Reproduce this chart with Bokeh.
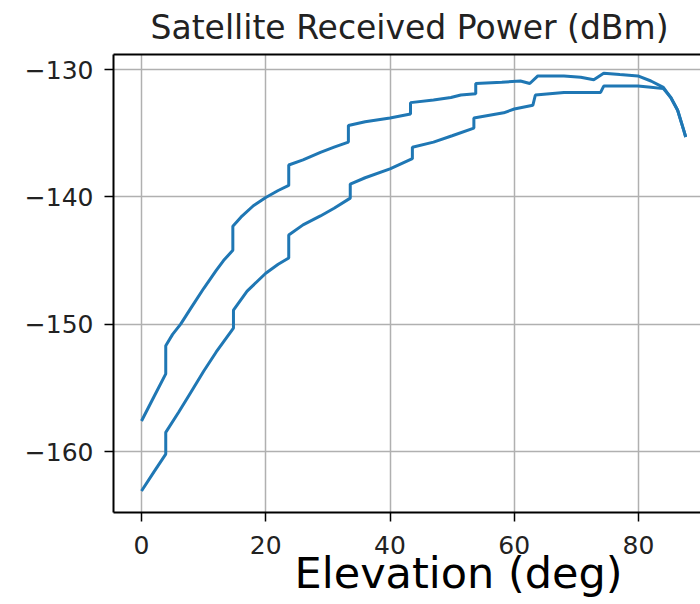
from bokeh.plotting import figure
from bokeh.models import Range1d, LinearAxis, FixedTicker
from bokeh.embed import file_html
from bokeh.resources import INLINE

title_text = "Satellite Received Power (dBm)"
xlabel_text = "Elevation (deg)"
x_ticks = [0, 20, 40, 60, 80]
y_ticks = [-160, -150, -140, -130]

upper_elev = [0, 2, 3.9, 3.9, 5, 6.3, 8, 10, 12, 13.2, 14.7, 14.7, 16, 18, 20, 22, 23.7, 23.7, 26, 28.8,
              31, 33.3, 33.3, 36, 40, 43.3, 43.3, 47, 49.8, 51.4, 53.8, 53.8, 58, 61, 62.5, 63.8, 68, 70.7,
              72.8, 74.4, 77, 79.9, 82, 84, 85.2, 86.3, 87.3, 87.6]
upper_power = [-157.6, -155.7, -153.9, -151.7, -150.8, -150.0, -148.7, -147.2, -145.8, -145.0,
               -144.2, -142.3, -141.6, -140.7, -140.05, -139.5, -139.1, -137.5, -137.1, -136.5,
               -136.1, -135.7, -134.4, -134.1, -133.8, -133.5, -132.6, -132.4, -132.2, -132.0,
               -131.9, -131.1, -131.0, -130.9, -131.1, -130.5, -130.5, -130.6, -130.8, -130.3,
               -130.4, -130.5, -130.9, -131.4, -132.2, -133.2, -134.8, -135.3]

lower_elev = [0, 2, 3.9, 3.9, 6, 8, 10, 12, 14.8, 14.8, 17, 20, 22, 23.7, 23.7, 26, 28.8, 31, 33.6, 33.6,
              36, 40, 43.6, 43.6, 47, 50, 53.5, 53.5, 58.3, 60, 63, 63.4, 68, 73.9, 74.4, 79.9, 82, 84,
              85.2, 86.3, 87.3, 87.6]
lower_power = [-163.1, -161.6, -160.2, -158.5, -156.9, -155.3, -153.7, -152.2, -150.3, -148.9,
               -147.4, -146.0, -145.3, -144.8, -143.0, -142.2, -141.5, -140.9, -140.1, -139.0,
               -138.5, -137.8, -137.0, -136.1, -135.7, -135.2, -134.6, -133.8, -133.4, -133.1,
               -132.8, -132.0, -131.8, -131.8, -131.3, -131.3, -131.4, -131.5, -132.2, -133.2,
               -134.8, -135.3]

p = figure(width=700, height=604, output_backend="svg", toolbar_location=None,
           x_range=Range1d(-4.51, 89.98), y_range=Range1d(-164.79, -128.82),
           min_border_left=113, min_border_top=54, min_border_bottom=92, min_border_right=0,
           title=title_text)
p.outline_line_color = None
p.background_fill_color = "white"
p.border_fill_color = "white"

p.title.align = "left"
p.title.vertical_align = "top"
p.title.offset = 37
p.title.standoff = 12
p.title.text_font = "DejaVu Sans"
p.title.text_font_size = "33px"
p.title.text_font_style = "normal"
p.title.text_color = "#222222"

blue = "#1f77b4"
p.line(upper_elev, upper_power, line_color=blue, line_width=3)
p.line(lower_elev, lower_power, line_color=blue, line_width=3)

for ax in (p.xaxis[0], p.yaxis[0]):
    ax.axis_line_color = "black"
    ax.axis_line_width = 2
    ax.major_tick_line_color = "black"
    ax.major_tick_line_width = 1.5
    ax.major_tick_in = 0
    ax.major_tick_out = 9
    ax.minor_tick_line_color = None
    ax.major_label_text_font = "DejaVu Sans"
    ax.major_label_text_font_size = "25px"
    ax.major_label_text_color = "#222222"

p.yaxis.major_label_standoff = 11
p.xaxis.major_label_standoff = 14

p.xaxis.ticker = FixedTicker(ticks=x_ticks)
p.yaxis.ticker = FixedTicker(ticks=y_ticks)
p.yaxis.major_label_overrides = {t: "\u2212%d" % (-t) for t in y_ticks}

# x-axis title, shifted right with leading fixed-width spaces as in the reference
p.xaxis.axis_label = "\u2003\u2003\u2009\u2009" + xlabel_text
p.xaxis.axis_label_text_font = "DejaVu Sans"
p.xaxis.axis_label_text_font_size = "43px"
p.xaxis.axis_label_text_font_style = "normal"
p.xaxis.axis_label_text_color = "black"
p.xaxis.axis_label_standoff = -9

top_axis = LinearAxis(axis_line_color="black", axis_line_width=2, major_tick_line_color=None,
                      minor_tick_line_color=None, major_tick_out=0, major_tick_in=0,
                      major_label_text_font_size="0px", major_label_standoff=0,
                      ticker=FixedTicker(ticks=[]))
p.add_layout(top_axis, "above")

p.xgrid.ticker = FixedTicker(ticks=x_ticks)
p.ygrid.ticker = FixedTicker(ticks=y_ticks)
p.grid.grid_line_color = "#b0b0b0"
p.grid.grid_line_width = 1.5

open("out.html", "w").write(file_html(p, INLINE))
